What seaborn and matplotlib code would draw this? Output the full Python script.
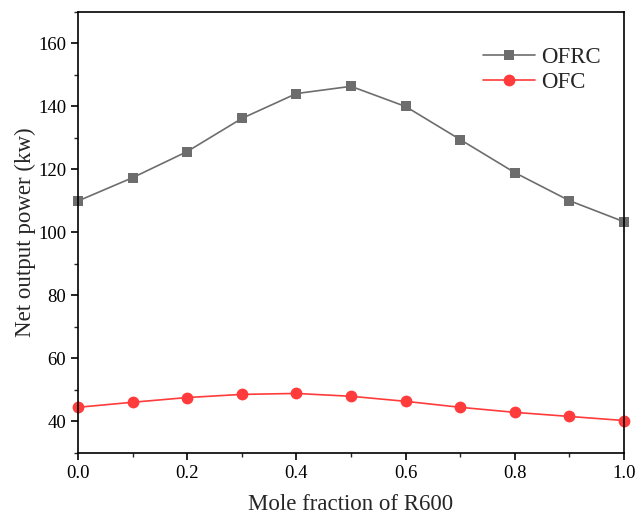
import numpy as np
import pandas as pd
import seaborn as sns
import matplotlib.pyplot as plt
from matplotlib.ticker import MultipleLocator

mole_fraction = [0.0, 0.1, 0.2, 0.3, 0.4, 0.5, 0.6, 0.7, 0.8, 0.9, 1.0]
ofrc = [110.0, 117.4, 125.7, 136.2, 144.1, 146.4, 140.0, 129.5, 119.0, 110.1, 103.4]
ofc = [44.5, 46.1, 47.6, 48.6, 48.9, 48.0, 46.4, 44.5, 42.9, 41.6, 40.3]

df = pd.DataFrame({
    "x": mole_fraction * 2,
    "y": ofrc + ofc,
    "series": ["OFRC"] * len(ofrc) + ["OFC"] * len(ofc),
})

sns.set_style("ticks")
plt.rcParams['font.family'] = ['Liberation Serif', 'DejaVu Serif']

fig = plt.figure(figsize=(6.35, 5.19), dpi=100)
ax = fig.add_axes([0.1228, 0.1272, 0.8599, 0.8497])

palette = {"OFRC": "#6d6d6d", "OFC": "#ff3b3b"}
sns.lineplot(data=df, x="x", y="y", hue="series", style="series",
             markers={"OFRC": "s", "OFC": "o"}, dashes=False,
             palette=palette, markersize=7, linewidth=1.2,
             markeredgewidth=0, ax=ax, clip_on=False)

# circles look a bit bigger than the squares in the original
sizes = {"s": 7, "o": 8.5}
for ln in ax.lines:
    m = ln.get_marker()
    if m in sizes:
        ln.set_markersize(sizes[m])

ax.set_xlim(0, 1.0)
ax.set_ylim(30, 170)
ax.xaxis.set_major_locator(MultipleLocator(0.2))
ax.xaxis.set_minor_locator(MultipleLocator(0.1))
ax.yaxis.set_minor_locator(MultipleLocator(10))
ax.set_yticks(np.arange(40, 161, 20))
ax.tick_params(which='major', direction='out', length=5, width=1.2, labelsize=13.5, colors='black')
ax.tick_params(which='minor', direction='out', length=3, width=1.0)
for s in ax.spines.values():
    s.set_linewidth(1.2)
    s.set_color('black')

ax.set_xlabel("Mole fraction of R600", fontsize=16.5, labelpad=9)
ax.set_ylabel("Net output power (kw)", fontsize=16.5, labelpad=1.5)

leg = ax.legend(loc='upper right', frameon=False, fontsize=16.5, title=None,
                handlelength=2.3, bbox_to_anchor=(0.995, 0.968), labelspacing=0.2,
                handletextpad=0.25)
for h in leg.legend_handles:
    m = h.get_marker()
    if m in sizes:
        h.set_markersize(sizes[m])

fig.savefig("out.png", dpi=100)
